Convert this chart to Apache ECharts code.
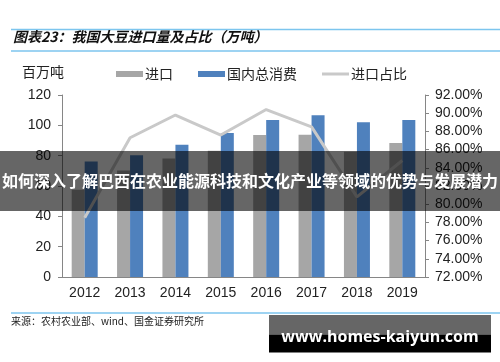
<!DOCTYPE html>
<html>
<head>
<meta charset="utf-8">
<script src="https://cdn.jsdelivr.net/npm/echarts@6/dist/echarts.min.js"></script>
<style>html,body{margin:0;padding:0;background:#fff;}#c{width:500px;height:362px;}</style>
</head>
<body>
<div id="c"></div>
<script>
var years = ['2012','2013','2014','2015','2016','2017','2018','2019'];
var imports = [57.6, 70.2, 78.1, 83.2, 93.6, 93.8, 82.6, 88.3];
var consumption = [76.2, 80.3, 87.2, 94.9, 103.5, 106.6, 102.0, 103.5];
var importShare = [78.5, 87.3, 89.8, 87.6, 90.4, 88.5, 80.8, 84.8];
var leftTicks = {min: 0, max: 120, interval: 20};
var rightTicks = {min: 72, max: 92, interval: 2};

var FONT = '"Liberation Sans", "Noto Sans CJK SC", sans-serif';
var CJK = '"Noto Sans CJK SC", sans-serif';
var chart = echarts.init(document.getElementById('c'), null, {renderer: 'canvas'});
var axisColor = '#868686';
var legendText = {fontSize: 14, color: '#222', fontFamily: CJK, padding: [0, 0, 0, -3]};
chart.setOption({
  backgroundColor: '#fff',
  animation: false,
  grid: {left: 62, right: 75, top: 95, bottom: 85},
  legend: [
    {data: [{name: '进口', icon: 'rect'}], left: 116, top: 67, padding: 0, itemWidth: 27, itemHeight: 6, textStyle: legendText},
    {data: [{name: '国内总消费', icon: 'rect'}], left: 198, top: 67, padding: 0, itemWidth: 27, itemHeight: 6, textStyle: legendText},
    {data: [{name: '进口占比', icon: 'rect'}], left: 322, top: 67, padding: 0, itemWidth: 27, itemHeight: 3, textStyle: legendText}
  ],
  xAxis: {
    type: 'category', data: years,
    axisLine: {lineStyle: {color: axisColor, width: 1}},
    axisTick: {inside: true, length: 4, lineStyle: {color: axisColor}},
    axisLabel: {fontSize: 14, color: '#222', fontFamily: FONT, margin: 9}
  },
  yAxis: [
    {
      type: 'value', min: leftTicks.min, max: leftTicks.max, interval: leftTicks.interval,
      axisLine: {show: true, lineStyle: {color: axisColor}},
      axisTick: {show: true, length: 4, lineStyle: {color: axisColor}},
      axisLabel: {fontSize: 14, color: '#222', fontFamily: FONT, margin: 11},
      splitLine: {show: false}
    },
    {
      type: 'value', min: rightTicks.min, max: rightTicks.max, interval: rightTicks.interval,
      position: 'right',
      axisLine: {show: true, lineStyle: {color: axisColor}},
      axisTick: {show: true, length: 4, lineStyle: {color: axisColor}},
      axisLabel: {fontSize: 14, color: '#222', fontFamily: FONT, margin: 10,
        formatter: function (v) { return v.toFixed(2) + '%'; }},
      splitLine: {show: false}
    }
  ],
  series: [
    {name: '进口', type: 'bar', data: imports, barWidth: 13, barGap: '0%',
      itemStyle: {color: '#a6a6a6'}},
    {name: '国内总消费', type: 'bar', data: consumption, barWidth: 13,
      itemStyle: {color: '#4f81bd'}},
    {name: '进口占比', type: 'line', yAxisIndex: 1, data: importShare, symbol: 'none',
      lineStyle: {color: '#c9c9c9', width: 3}, itemStyle: {color: '#c9c9c9'}, z: 5}
  ],
  graphic: [
    {type: 'line', shape: {x1: 11, y1: 29.5, x2: 500, y2: 29.5}, style: {stroke: '#7cc5ee', lineWidth: 1.5}},
    {type: 'line', shape: {x1: 11, y1: 51, x2: 500, y2: 51}, style: {stroke: '#7cc5ee', lineWidth: 1.5}},
    {type: 'text', left: 13, top: 30, style: {text: '图表23：我国大豆进口量及占比（万吨）', font: 'italic bold 14px "Noto Sans CJK SC"', fill: '#111'}},
    {type: 'text', left: 22, top: 65, style: {text: '百万吨', font: '14px "Noto Sans CJK SC"', fill: '#222'}},
    {type: 'line', shape: {x1: 11, y1: 313, x2: 500, y2: 313}, style: {stroke: '#7cc5ee', lineWidth: 1.5}},
    {type: 'text', left: 11, top: 316, style: {text: '来源：农村农业部、wind、国金证券研究所', font: '10px "Noto Sans CJK SC"', fill: '#222'}},
    {type: 'rect', shape: {x: 0, y: 151, width: 500, height: 60}, style: {fill: 'rgba(0,0,0,0.6)'}, z: 100},
    {type: 'text', x: 250, y: 181, z: 101, style: {text: '如何深入了解巴西在农业能源科技和文化产业等领域的优势与发展潜力', font: 'bold 16px "Noto Sans CJK SC"', fill: '#fff', align: 'center', verticalAlign: 'middle'}},
    {type: 'rect', shape: {x: 269, y: 315, width: 222, height: 19.5}, style: {fill: '#666'}, z: 100},
    {type: 'rect', shape: {x: 269, y: 334.5, width: 222, height: 18}, style: {fill: '#000'}, z: 100},
    {type: 'text', x: 380, y: 337, z: 101, style: {text: 'www.homes-kaiyun.com', font: 'bold 16px "Open Sans", "DejaVu Sans", sans-serif', fill: '#fff', align: 'center', verticalAlign: 'middle'}}
  ]
});
</script>
</body>
</html>
